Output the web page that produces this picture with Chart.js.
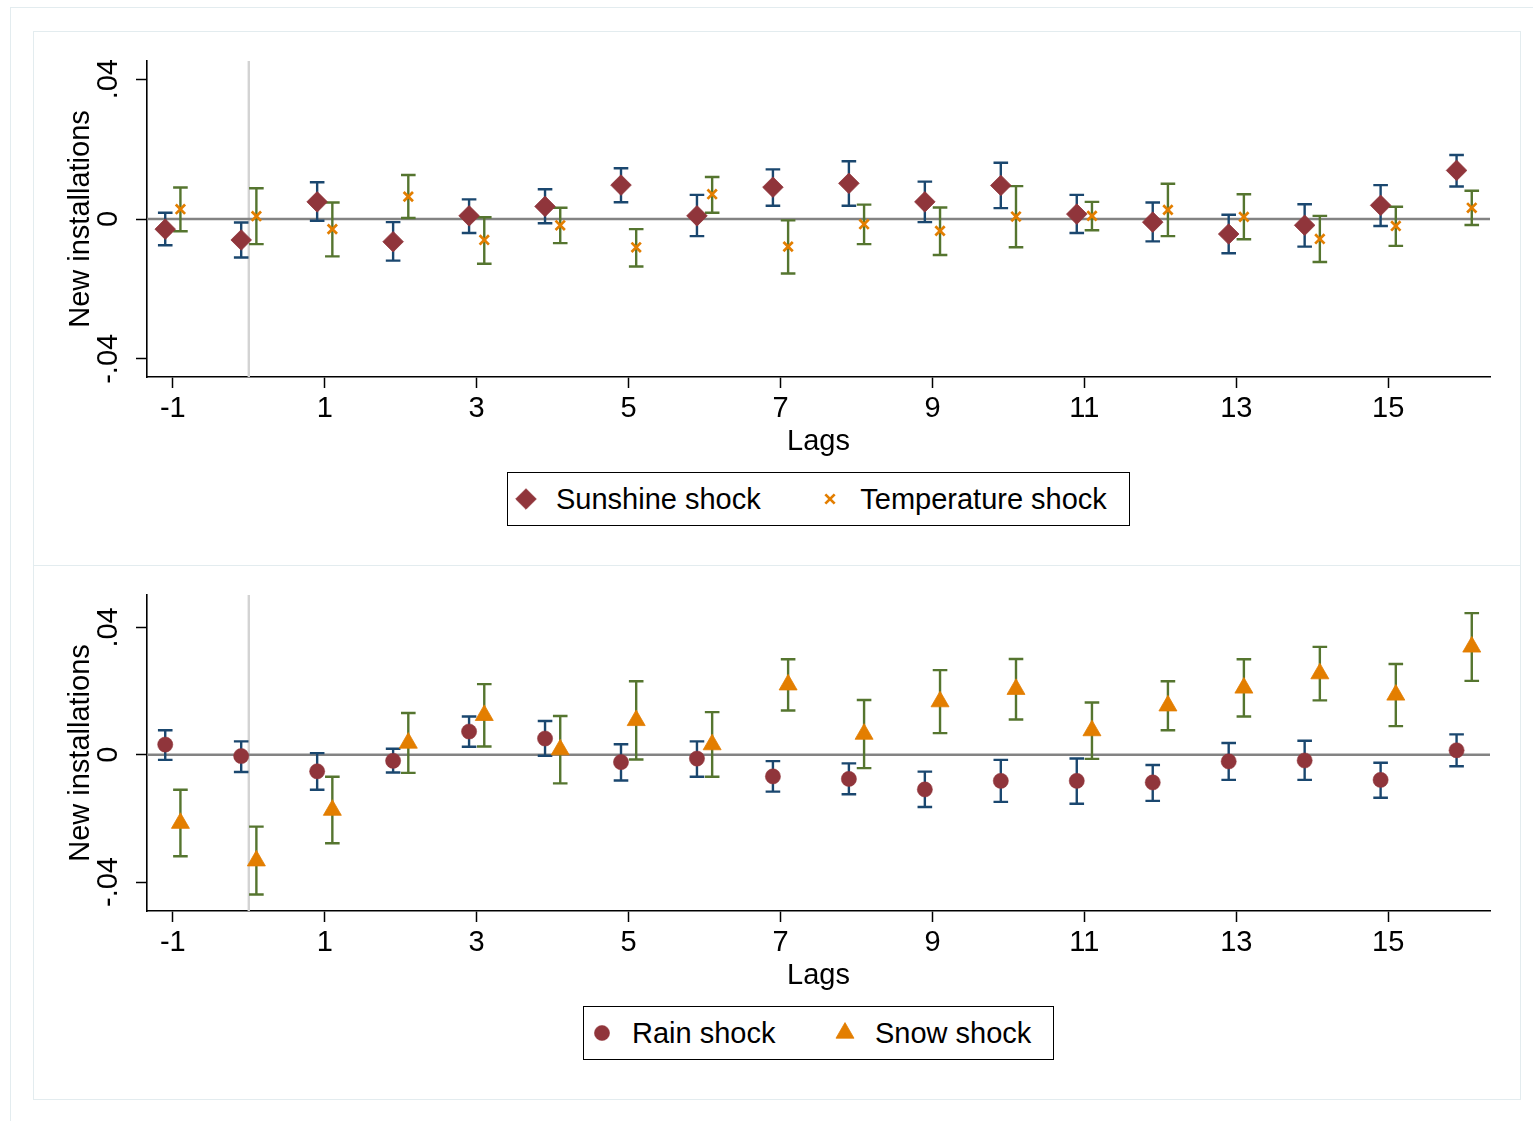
<!DOCTYPE html>
<html>
<head>
<meta charset="utf-8">
<script src="https://cdn.jsdelivr.net/npm/chart.js@4.4.1/dist/chart.umd.min.js"></script>
<style>
html, body { margin: 0; padding: 0; background: #fff; }
body { width: 1533px; height: 1121px; position: relative; overflow: hidden;
       font-family: 'Liberation Sans', Arial, Helvetica, sans-serif; }
.frame { position: absolute; box-sizing: border-box; border: 1.5px solid #e3ecef; }
canvas.chart { position: absolute; left: 0; }
.legend { position: absolute; box-sizing: border-box; border: 1.5px solid #000; height: 54px;
          display: flex; align-items: center; padding: 0 22px 0 6px; white-space: nowrap;
          background: #fff; z-index: 5; }
.legend .item { display: flex; align-items: center; }
.legend .item + .item { margin-left: 57.5px; }
.legend canvas { width: 24px; height: 24px; display: block; }
.legend span { margin-left: 18px; font-size: 29px; line-height: 51px; color: #000; }
</style>
</head>
<body>
<div class="frame" style="left:10px;top:7px;width:1600px;height:1200px"></div>
<div class="frame" style="left:33px;top:31px;width:1488px;height:535px"></div>
<div class="frame" style="left:33px;top:565px;width:1488px;height:535px"></div>
<canvas id="topChart" class="chart" width="1533" height="565" style="top:0;width:1533px;height:565px"></canvas>
<canvas id="bottomChart" class="chart" width="1533" height="556" style="top:565px;width:1533px;height:556px"></canvas>
<script>
// ---------------- data ----------------
const lags = [-1, 0, 1, 2, 3, 4, 5, 6, 7, 8, 9, 10, 11, 12, 13, 14, 15, 16];
const xTickValues = [-1, 1, 3, 5, 7, 9, 11, 13, 15];
const yTickValues = [-0.04, 0, 0.04];
const yTickLabels = ['-.04', '0', '.04'];
const xTitle = 'Lags';
const yTitle = 'New installations';

const sunshineCoef = [-0.0029, -0.0060, 0.0049, -0.0065, 0.0009, 0.0036, 0.0097, 0.0009, 0.0091, 0.0102, 0.0049, 0.0096, 0.0014, -0.0009, -0.0043, -0.0018, 0.0039, 0.0139];
const sunshineLow  = [-0.0075, -0.0110, -0.0005, -0.0119, -0.0040, -0.0012, 0.0048, -0.0049, 0.0038, 0.0038, -0.0009, 0.0031, -0.0040, -0.0064, -0.0098, -0.0079, -0.0020, 0.0093];
const sunshineHigh = [0.0018, -0.0010, 0.0105, -0.0009, 0.0056, 0.0085, 0.0145, 0.0069, 0.0142, 0.0165, 0.0107, 0.0161, 0.0069, 0.0047, 0.0012, 0.0042, 0.0097, 0.0183];

const temperatureCoef = [0.0028, 0.0008, -0.0029, 0.0064, -0.0060, -0.0018, -0.0081, 0.0071, -0.0079, -0.0015, -0.0034, 0.0007, 0.0009, 0.0026, 0.0006, -0.0057, -0.0020, 0.0032];
const temperatureLow  = [-0.0035, -0.0072, -0.0107, 0.0003, -0.0128, -0.0069, -0.0136, 0.0018, -0.0156, -0.0072, -0.0103, -0.0081, -0.0032, -0.0049, -0.0058, -0.0123, -0.0077, -0.0017];
const temperatureHigh = [0.0090, 0.0088, 0.0047, 0.0126, 0.0005, 0.0032, -0.0029, 0.0120, -0.0004, 0.0041, 0.0033, 0.0094, 0.0049, 0.0101, 0.0071, 0.0009, 0.0035, 0.0081];

const rainCoef = [0.0032, -0.0004, -0.0052, -0.0019, 0.0073, 0.0051, -0.0023, -0.0012, -0.0068, -0.0076, -0.0109, -0.0082, -0.0082, -0.0087, -0.0021, -0.0018, -0.0079, 0.0014];
const rainLow  = [-0.0016, -0.0054, -0.0110, -0.0056, 0.0025, -0.0003, -0.0081, -0.0069, -0.0116, -0.0124, -0.0164, -0.0148, -0.0154, -0.0145, -0.0079, -0.0079, -0.0135, -0.0036];
const rainHigh = [0.0077, 0.0042, 0.0005, 0.0019, 0.0120, 0.0106, 0.0033, 0.0042, -0.0020, -0.0027, -0.0053, -0.0016, -0.0012, -0.0032, 0.0037, 0.0044, -0.0025, 0.0064];

const snowCoef = [-0.0215, -0.0333, -0.0174, 0.0037, 0.0124, 0.0016, 0.0108, 0.0032, 0.0220, 0.0065, 0.0167, 0.0206, 0.0076, 0.0154, 0.0210, 0.0255, 0.0188, 0.0339];
const snowLow  = [-0.0319, -0.0439, -0.0278, -0.0057, 0.0026, -0.0090, -0.0015, -0.0069, 0.0139, -0.0042, 0.0068, 0.0111, -0.0013, 0.0077, 0.0120, 0.0171, 0.0090, 0.0232];
const snowHigh = [-0.0110, -0.0226, -0.0069, 0.0131, 0.0222, 0.0122, 0.0231, 0.0134, 0.0300, 0.0172, 0.0266, 0.0301, 0.0164, 0.0231, 0.0300, 0.0339, 0.0285, 0.0445];

const xRange = [-1.34, 16.34];
const topYRange = [-0.0452, 0.0452];
const bottomYRange = [-0.0491, 0.0502];

// ---------------- styling ----------------
const FONT = "'Liberation Sans', Arial, Helvetica, sans-serif";
Chart.defaults.font.family = FONT;
Chart.defaults.color = '#000';
const NAVY = '#1a476f', MAROON = '#90353b', GREEN = '#55752f', ORANGE = '#e37e00';
const DODGE = 0.1;

function series(label, coef, low, high, shift, ciColor, style) {
  return Object.assign({
    label,
    data: lags.map((lag, i) => ({ x: lag + shift, y: coef[i] })),
    ciLow: low, ciHigh: high, shift, ciColor,
    showLine: false
  }, style);
}

const diamondStyle = { pointStyle: 'rectRot', pointRadius: 10.3, pointHoverRadius: 10.3, pointBackgroundColor: MAROON, pointBorderColor: MAROON, pointBorderWidth: 0.8 };
const crossStyle = { pointStyle: 'crossRot', pointRadius: 6.6, pointHoverRadius: 6.6, pointBackgroundColor: ORANGE, pointBorderColor: ORANGE, pointBorderWidth: 2.7 };
const circleStyle = { pointStyle: 'circle', pointRadius: 7.6, pointHoverRadius: 7.6, pointBackgroundColor: MAROON, pointBorderColor: MAROON, pointBorderWidth: 0.5 };
const triangleStyle = { pointStyle: 'triangle', pointRadius: 10.4, pointHoverRadius: 10.4, pointBackgroundColor: ORANGE, pointBorderColor: ORANGE, pointBorderWidth: 0.8 };

const coefPlot = {
  id: 'coefPlot',
  beforeDatasetsDraw(chart) {
    const { ctx, chartArea: a, scales: { x, y } } = chart;
    ctx.save();
    const x0 = x.getPixelForValue(0);
    ctx.strokeStyle = '#d3d3d3'; ctx.lineWidth = 2.4;
    ctx.beginPath(); ctx.moveTo(x0, a.top); ctx.lineTo(x0, a.bottom); ctx.stroke();
    const y0 = y.getPixelForValue(0);
    ctx.strokeStyle = '#838383'; ctx.lineWidth = 2.3;
    ctx.beginPath(); ctx.moveTo(a.left, y0); ctx.lineTo(a.right, y0); ctx.stroke();
    chart.data.datasets.forEach(ds => {
      ctx.strokeStyle = ds.ciColor; ctx.lineWidth = 2.4; ctx.lineCap = 'butt';
      lags.forEach((lag, i) => {
        const px = x.getPixelForValue(lag + ds.shift);
        const yl = y.getPixelForValue(ds.ciLow[i]);
        const yh = y.getPixelForValue(ds.ciHigh[i]);
        ctx.beginPath();
        ctx.moveTo(px, yl); ctx.lineTo(px, yh);
        ctx.moveTo(px - 7.3, yl); ctx.lineTo(px + 7.3, yl);
        ctx.moveTo(px - 7.3, yh); ctx.lineTo(px + 7.3, yh);
        ctx.stroke();
      });
    });
    ctx.restore();
  }
};

function makeChart(id, datasets, yRange, padding) {
  const font = { family: FONT, size: 29 };
  return new Chart(document.getElementById(id), {
    type: 'scatter',
    data: { datasets },
    plugins: [coefPlot],
    options: {
      responsive: false, animation: false, devicePixelRatio: 1, events: [],
      layout: { padding },
      plugins: { legend: { display: false }, tooltip: { enabled: false } },
      scales: {
        x: {
          type: 'linear', position: 'bottom', min: xRange[0], max: xRange[1],
          afterBuildTicks: s => { s.ticks = xTickValues.map(v => ({ value: v })); },
          afterFit: s => { s.height = 90; },
          grid: { display: true, drawOnChartArea: false, drawTicks: true, tickLength: 11, tickColor: '#000', tickWidth: 1.5 },
          border: { display: true, color: '#000', width: 1.6 },
          ticks: { color: '#000', font, padding: 4, autoSkip: false, maxRotation: 0, minRotation: 0, callback: v => String(v) },
          title: { display: true, text: xTitle, color: '#000', font, padding: { top: 0, bottom: 8 } }
        },
        y: {
          type: 'linear', position: 'left', min: yRange[0], max: yRange[1],
          afterBuildTicks: s => { s.ticks = yTickValues.map(v => ({ value: v })); },
          afterFit: s => { s.width = 117; },
          grid: { display: true, drawOnChartArea: false, drawTicks: true, tickLength: 11, tickColor: '#000', tickWidth: 1.5 },
          border: { display: true, color: '#000', width: 1.6 },
          ticks: { color: '#000', font, padding: 2.2, crossAlign: 'center', minRotation: 90, maxRotation: 90,
                   callback: v => yTickLabels[yTickValues.indexOf(v)] },
          title: { display: true, text: yTitle, color: '#000', font, padding: { top: 34, bottom: 0 } }
        }
      }
    }
  });
}

function buildLegend(chart, canvasTop) {
  const box = document.createElement('div');
  box.className = 'legend';
  chart.data.datasets.forEach(ds => {
    const item = document.createElement('div');
    item.className = 'item';
    const c = document.createElement('canvas');
    c.width = 24; c.height = 24;
    const g = c.getContext('2d');
    g.fillStyle = ds.pointBackgroundColor;
    g.strokeStyle = ds.pointBorderColor;
    g.lineWidth = ds.pointBorderWidth;
    Chart.helpers.drawPoint(g, { pointStyle: ds.pointStyle, radius: ds.pointRadius, borderWidth: ds.pointBorderWidth, rotation: 0 }, 12, 12);
    const t = document.createElement('span');
    t.textContent = ds.label;
    item.append(c, t);
    box.append(item);
  });
  document.body.append(box);
  const a = chart.chartArea;
  box.style.left = ((a.left + a.right) / 2 - box.offsetWidth / 2) + 'px';
  box.style.top = (canvasTop + a.bottom + 95) + 'px';
}

const topChart = makeChart('topChart', [
  series('Sunshine shock', sunshineCoef, sunshineLow, sunshineHigh, -DODGE, NAVY, diamondStyle),
  series('Temperature shock', temperatureCoef, temperatureLow, temperatureHigh, DODGE, GREEN, crossStyle)
], topYRange, { left: 30, right: 43, top: 61, bottom: 98 });

const bottomChart = makeChart('bottomChart', [
  series('Rain shock', rainCoef, rainLow, rainHigh, -DODGE, NAVY, circleStyle),
  series('Snow shock', snowCoef, snowLow, snowHigh, DODGE, GREEN, triangleStyle)
], bottomYRange, { left: 30, right: 43, top: 30, bottom: 120 });

buildLegend(topChart, 0);
buildLegend(bottomChart, 565);
</script>
</body>
</html>
